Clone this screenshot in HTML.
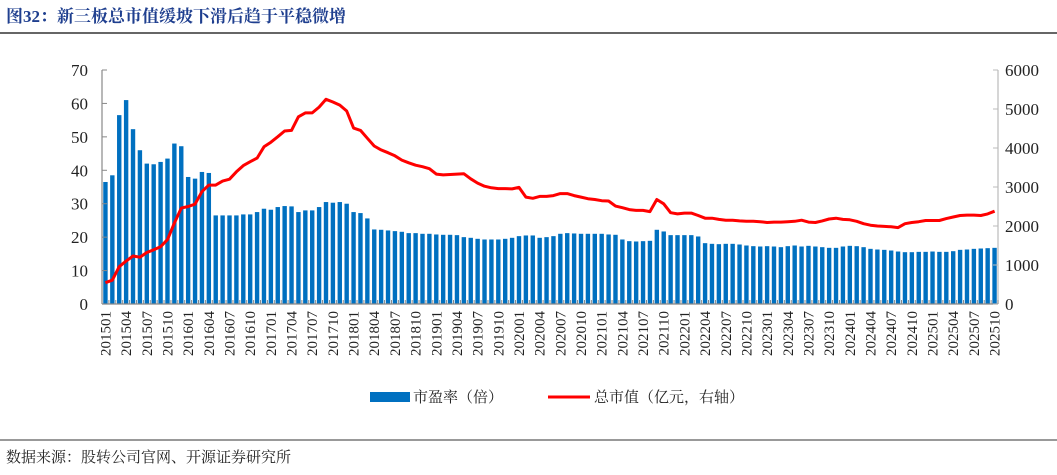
<!DOCTYPE html>
<html><head><meta charset="utf-8"><style>
body{margin:0;background:#fff;width:1057px;height:470px;overflow:hidden;font-family:"Liberation Serif","Noto Serif CJK SC",serif}
</style></head><body>
<svg id="c" width="1057" height="470" xmlns="http://www.w3.org/2000/svg">
<text x="6" y="22" font-family="Liberation Serif, Noto Serif CJK SC, serif" font-weight="bold" font-size="17" fill="#1f3f8f">图32：新三板总市值缓坡下滑后趋于平稳微增</text>
<line x1="0" y1="33" x2="1057" y2="33" stroke="#333" stroke-width="1.5"/>
<line x1="0" y1="440" x2="1057" y2="440" stroke="#333" stroke-width="1"/>
<text x="6" y="462" font-size="15" fill="#222" font-family="Liberation Serif, Noto Serif CJK SC, serif">数据来源：股转公司官网、开源证券研究所</text>
<g id="plot"></g>
<g>
<rect x="370" y="392" width="40" height="10" fill="#0070c0"/>
<text x="413" y="402" font-size="15" fill="#222">市盈率（倍）</text>
<line x1="548" y1="397" x2="590" y2="397" stroke="#ff0000" stroke-width="3"/>
<text x="594" y="402" font-size="15" fill="#222">总市值（亿元，右轴）</text>
</g>
</svg>
<script>
const pe=[36.5,38.5,56.5,61,52.3,46,42,41.8,42.5,43.5,48,47.2,
38,37.5,39.5,39.2,26.5,26.5,26.5,26.5,26.8,26.8,27.5,28.5,
28.2,29,29.3,29.2,27.5,28,28,29,30.5,30.3,30.5,30,
27.5,27.2,25.6,22.3,22.2,22,21.8,21.6,21.2,21.2,21,21,
20.8,20.7,20.7,20.6,20,19.8,19.5,19.3,19.3,19.3,19.5,19.8,
20.3,20.5,20.5,19.8,20,20.3,21,21.2,21.1,21,21,21,
21,20.8,20.7,19.3,18.8,18.7,18.8,18.9,22.2,21.7,20.6,20.6,
20.6,20.6,20.2,18.2,18,17.9,18,18,17.8,17.5,17.3,17.2,
17.3,17.2,17,17.3,17.5,17.2,17.4,17.2,17,16.8,16.8,17.2,
17.4,17.3,17,16.5,16.3,16.2,16,15.7,15.5,15.5,15.6,15.6,
15.7,15.6,15.6,15.8,16.2,16.3,16.5,16.6,16.7,16.8];
const mv=[546,610,957,1100,1230,1200,1320,1390,1470,1650,2077,2460,2500,2560,2880,3050,3050,3150,3200,3390,3550,3650,3740,4030,4150,4290,4436,4450,4800,4900,4900,5050,5250,5180,5100,4950,4510,4450,4250,4050,3950,3880,3800,3690,3620,3560,
3520,3470,3330,3310,3320,3330,3340,3210,3100,3020,2980,2960,2960,2950,2990,2740,2710,2760,2760,2780,2830,2830,2780,2740,2700,2680,2650,2640,2510,2470,2420,2400,2400,2370,2680,2570,2340,2310,2330,2330,2270,2200,2200,2170,
2150,2150,2130,2120,2120,2110,2090,2100,2100,2110,2120,2150,2100,2090,2130,2180,2200,2170,2160,2120,2060,2020,2000,1990,1980,1960,2060,2090,2110,2140,2140,2140,2190,2230,2270,2280,2280,2270,2310,2380];
const leftTicks=[0,10,20,30,40,50,60,70];
const rightTicks=[0,1000,2000,3000,4000,5000,6000];
const NS="http://www.w3.org/2000/svg";
const X0=102,X1=998,Y0=304,Y1=70,n=pe.length,bw=(X1-X0)/n;
const xc=i=>X0+bw*(i+0.5);
const yl=v=>Y0-(v/70)*(Y0-Y1);
const yr=v=>Y0-(v/6000)*(Y0-Y1);
const labs=[];for(let i=0;i<n;i++){const y=2015+Math.floor(i/12),m=i%12+1;labs.push(y+(m<10?"0":"")+m);}
const g=document.getElementById('plot');
function mk(t,a){const e=document.createElementNS(NS,t);for(const k in a)e.setAttribute(k,a[k]);g.appendChild(e);return e;}
pe.forEach((v,i)=>{const r=mk('rect',{x:xc(i)-2.2,y:yl(v),width:4.4,height:Y0-yl(v),fill:'#0070c0'});

});
let d='';mv.forEach((v,i)=>{d+=(i?'L':'M')+xc(i).toFixed(1)+' '+yr(v).toFixed(1);});
const p=mk('path',{d:d,fill:'none',stroke:'#ff0000','stroke-width':3,'stroke-linejoin':'round'});


const ax=mk('line',{x1:X0,y1:Y0,x2:X1,y2:Y0,stroke:'#888','stroke-width':1.2});


const la=mk('line',{x1:X0,y1:Y1,x2:X0,y2:Y0,stroke:'#888','stroke-width':1.2});


const ra=mk('line',{x1:X1,y1:Y1,x2:X1,y2:Y0,stroke:'#bbb','stroke-width':1.2});


leftTicks.forEach(v=>{const t=mk('text',{x:88,y:yl(v)+6,'text-anchor':'end','font-size':17,fill:'#222'});t.textContent=v;


mk('line',{x1:X0,y1:yl(v),x2:X0+5,y2:yl(v),stroke:'#888'});});
rightTicks.forEach(v=>{const t=mk('text',{x:1005,y:yr(v)+6,'font-size':17,fill:'#222'});t.textContent=v;


mk('line',{x1:X1-5,y1:yr(v),x2:X1,y2:yr(v),stroke:'#bbb'});});
for(let i=0;i<=n;i++){mk('line',{x1:X0+bw*i,y1:Y0,x2:X0+bw*i,y2:Y0-4,stroke:'#888'});}
for(let i=0;i<n;i+=3){const x=xc(i)+5;const t=mk('text',{x:x,y:311,'text-anchor':'end','font-size':15,fill:'#222',transform:'rotate(-90 '+x+' 311)'});t.textContent=labs[i];

}
</script>
</body></html>
